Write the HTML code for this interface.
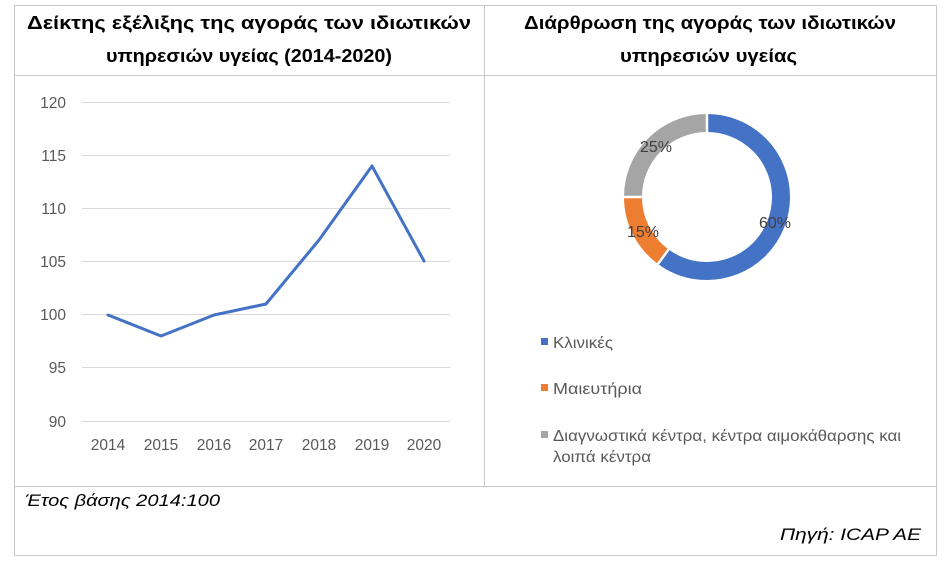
<!DOCTYPE html>
<html><head><meta charset="utf-8"><style>
body{margin:0;background:#fff;width:951px;height:572px;overflow:hidden;font-family:"Liberation Sans",sans-serif;}
</style></head><body>
<svg width="951" height="572" xmlns="http://www.w3.org/2000/svg" font-family="Liberation Sans, sans-serif">
<g stroke="#c8c8c8" stroke-width="1" fill="none">
<rect x="14.5" y="5.5" width="922" height="550"/>
<line x1="14" y1="75.5" x2="937" y2="75.5"/>
<line x1="484.5" y1="5" x2="484.5" y2="486"/>
<line x1="14" y1="486.5" x2="937" y2="486.5"/>
</g>
<g font-weight="bold" font-size="18" fill="#000" lengthAdjust="spacingAndGlyphs">
<text x="27" y="29" textLength="444" lengthAdjust="spacingAndGlyphs">Δείκτης εξέλιξης της αγοράς των ιδιωτικών</text>
<text x="106" y="62" textLength="286" lengthAdjust="spacingAndGlyphs">υπηρεσιών υγείας (2014-2020)</text>
<text x="524" y="29" textLength="372" lengthAdjust="spacingAndGlyphs">Διάρθρωση της αγοράς των ιδιωτικών</text>
<text x="620" y="62" textLength="177" lengthAdjust="spacingAndGlyphs">υπηρεσιών υγείας</text>
</g>
<g stroke="#d9d9d9" stroke-width="1">
<line x1="82" y1="102.5" x2="450" y2="102.5"/>
<line x1="82" y1="155.5" x2="450" y2="155.5"/>
<line x1="82" y1="208.5" x2="450" y2="208.5"/>
<line x1="82" y1="261.5" x2="450" y2="261.5"/>
<line x1="82" y1="314.5" x2="450" y2="314.5"/>
<line x1="82" y1="367.5" x2="450" y2="367.5"/>
<line x1="82" y1="421.5" x2="450" y2="421.5"/>
</g>
<g font-size="15.5" fill="#595959" text-anchor="end">
<text x="66" y="108">120</text><text x="66" y="161">115</text><text x="66" y="214">110</text>
<text x="66" y="267">105</text><text x="66" y="320">100</text><text x="66" y="373">95</text><text x="66" y="427">90</text>
</g>
<g font-size="15.5" fill="#595959" text-anchor="middle">
<text x="108" y="450">2014</text><text x="161" y="450">2015</text><text x="214" y="450">2016</text>
<text x="266" y="450">2017</text><text x="319" y="450">2018</text><text x="372" y="450">2019</text><text x="424" y="450">2020</text>
</g>
<polyline fill="none" stroke="#4472c4" stroke-width="3" stroke-linejoin="round" stroke-linecap="round"
points="108,315 161,336 214,315 266,304 319,240 372,166 424,261"/>
<g transform="rotate(-90 707 197)" fill="none" stroke-width="18">
<circle cx="707" cy="197" r="74" stroke="#4472c4" stroke-dasharray="278.98 465" stroke-dashoffset="0"/>
<circle cx="707" cy="197" r="74" stroke="#ed7d31" stroke-dasharray="69.74 465" stroke-dashoffset="-278.98"/>
<circle cx="707" cy="197" r="74" stroke="#a5a5a5" stroke-dasharray="116.24 465" stroke-dashoffset="-348.72"/>
</g>
<g stroke="#fff" stroke-width="2.5">
<line x1="707" y1="197" x2="707" y2="110"/>
<line x1="707" y1="197" x2="655" y2="268"/>
<line x1="707" y1="197" x2="620" y2="197"/>
</g>
<circle cx="707" cy="197" r="64.5" fill="#fff"/>
<g font-size="16" fill="#404040">
<text x="759" y="228">60%</text><text x="627" y="237">15%</text><text x="640" y="152">25%</text>
</g>
<rect x="541" y="338" width="7" height="7" fill="#4472c4"/>
<rect x="541" y="384" width="7" height="7" fill="#ed7d31"/>
<rect x="541" y="431" width="7" height="7" fill="#a5a5a5"/>
<g font-size="15.5" fill="#595959">
<text x="553" y="348" textLength="60" lengthAdjust="spacingAndGlyphs">Κλινικές</text>
<text x="553" y="394" textLength="89" lengthAdjust="spacingAndGlyphs">Μαιευτήρια</text>
<text x="553" y="441" textLength="348" lengthAdjust="spacingAndGlyphs">Διαγνωστικά κέντρα, κέντρα αιμοκάθαρσης και</text>
<text x="553" y="462" textLength="98" lengthAdjust="spacingAndGlyphs">λοιπά κέντρα</text>
</g>
<g font-style="italic" font-size="17" fill="#000">
<text x="25" y="506" textLength="195" lengthAdjust="spacingAndGlyphs">Έτος βάσης 2014:100</text>
<text x="780" y="540" textLength="141" lengthAdjust="spacingAndGlyphs">Πηγή:  ICAP AE</text>
</g>
</svg>
</body></html>
